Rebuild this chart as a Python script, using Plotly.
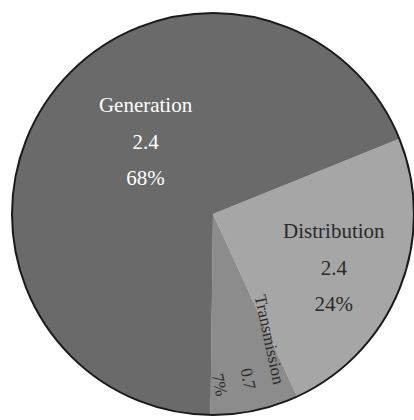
import plotly.graph_objects as go

labels = ["Distribution", "Transmission", "Generation"]
values = [24, 7, 68]
amounts = ["2.4", "0.7", "2.4"]
percents = ["24%", "7%", "68%"]

slice_colors = ["#a6a6a6", "#8c8c8c", "#6a6a6a"]
text_colors = ["#2a2a2a", "#2a2a2a", "#ffffff"]
glyph_px = [21, 17, 21]
radial_text = [False, True, False]   # Transmission label runs along its slice

NB = "\u00a0"
BASE = 5.6                     # text element size -> one line step = 1.3 * BASE px
TINY = f"<span style='font-size:2px'>{NB}</span>"

# text layout nudges (padding only; the label text itself is unchanged)
# lead: no-break spaces before each line, gap: blank steps between lines,
# before/after: blank steps above/below the label
nudges = {
    "Distribution": dict(lead=[4, 4, 4], gap=4, before=5, after=0),
    "Transmission": dict(lead=[0, 16, 16], gap=3, before=0, after=0),
    "Generation":   dict(lead=[6, 6, 6], gap=4, before=0, after=5),
}

def label_text(l, a, p, g):
    n = nudges[l]
    vis = [f"<span style='font-size:{g}px'>{NB * ld}{s}</span>"
           for s, ld in zip((l, a, p), n["lead"])]
    parts = [TINY] * n["before"]
    for i, v in enumerate(vis):
        if i:
            parts += [TINY] * n["gap"]
        parts.append(v)
    parts += [TINY] * n["after"]
    return "<br>".join(parts)

all_texts = [label_text(*t) for t in zip(labels, amounts, percents, glyph_px)]
flat_texts = [t if not r else "" for t, r in zip(all_texts, radial_text)]
rad_texts = [t if r else "" for t, r in zip(all_texts, radial_text)]

common = dict(
    labels=labels, values=values, textinfo="text", textposition="inside",
    sort=False, direction="clockwise", rotation=68, showlegend=False,
)

W, H = 414, 420
cx, cy, R = 213, 206, 201      # pie centre (px from left / from bottom) and radius
R_TXT = 165                    # radius of the invisible text-carrier copy

def dom(r):
    return dict(x=[(cx - r) / W, (cx + r) / W], y=[(cy - r) / H, (cy + r) / H])

fig = go.Figure()
fig.add_trace(go.Pie(
    text=flat_texts,
    insidetextorientation="horizontal",
    marker=dict(colors=slice_colors, line=dict(width=0)),
    textfont=dict(family="Liberation Serif", size=BASE, color=text_colors),
    hoverinfo="label+percent",
    domain=dom(R),
    **common,
))
fig.add_trace(go.Pie(
    text=rad_texts,
    insidetextorientation="radial",
    marker=dict(colors=["rgba(0,0,0,0)"] * len(labels), line=dict(width=0)),
    textfont=dict(family="Liberation Serif", size=BASE, color=text_colors),
    hoverinfo="skip",
    domain=dom(R_TXT),
    **common,
))

d = dom(R)
fig.update_layout(
    width=W, height=H,
    margin=dict(l=0, r=0, t=0, b=0),
    paper_bgcolor="white",
    plot_bgcolor="white",
    uniformtext=dict(minsize=BASE, mode="show"),
    shapes=[dict(type="circle", xref="paper", yref="paper",
                 x0=d["x"][0], x1=d["x"][1], y0=d["y"][0], y1=d["y"][1],
                 line=dict(color="#1a1a1a", width=2))],
)

fig.write_html("out.html")
